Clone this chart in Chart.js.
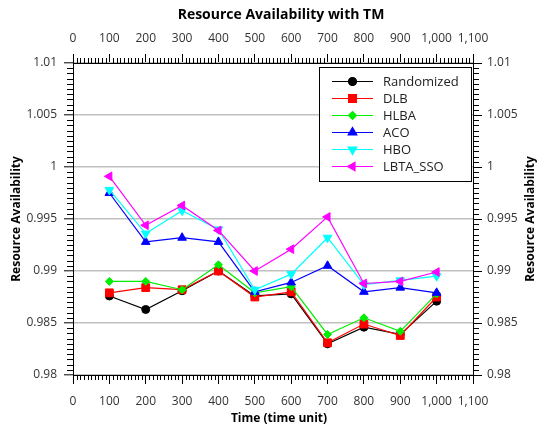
<!DOCTYPE html>
<html><head><meta charset="utf-8">
<script src="https://cdn.jsdelivr.net/npm/chart.js@4/dist/chart.umd.min.js"></script>
<style>html,body{margin:0;padding:0;background:#fff}canvas{display:block}</style>
</head><body>
<canvas id="c" width="538" height="430"></canvas>
<script>
// ---- data ----
const timeUnits  = [100, 200, 300, 400, 500, 600, 700, 800, 900, 1000];
const randomized = [0.9876, 0.9863, 0.9881, 0.9900, 0.9876, 0.9878, 0.9830, 0.9846, 0.9839, 0.9871];
const dlb        = [0.9879, 0.9884, 0.9882, 0.9900, 0.9875, 0.9880, 0.9831, 0.9849, 0.9838, 0.9875];
const hlba       = [0.9890, 0.9890, 0.9882, 0.9906, 0.9879, 0.9885, 0.9839, 0.9855, 0.9842, 0.9878];
const aco        = [0.9975, 0.9928, 0.9932, 0.9928, 0.9880, 0.9889, 0.9905, 0.9880, 0.9884, 0.9879];
const hbo        = [0.9978, 0.9936, 0.9958, 0.9940, 0.9882, 0.9897, 0.9932, 0.9887, 0.9891, 0.9895];
const lbtaSso    = [0.9991, 0.9944, 0.9963, 0.9939, 0.9900, 0.9921, 0.9952, 0.9888, 0.9890, 0.9899];
const seriesNames = ['Randomized', 'DLB', 'HLBA', 'ACO', 'HBO', 'LBTA_SSO'];
const xMin = 0, xMax = 1100, xStep = 100, xMinorStep = 10;
const yMin = 0.98, yMax = 1.01, yStep = 0.005, yMinorStep = 0.0005;
const chartTitle = 'Resource Availability with TM';
const xTitle = 'Time (time unit)';
const yTitle = 'Resource Availability';

// ---- styles ----
const FONT = "'Open Sans', 'Noto Sans', sans-serif";
const styles = [
  {color: '#000000', pointStyle: 'circle',   radius: 4,   rotation: 0},
  {color: '#ff0000', pointStyle: 'rect',     radius: 5.5, rotation: 0},
  {color: '#00ee00', pointStyle: 'rectRot',  radius: 4,   rotation: 0},
  {color: '#0000ff', pointStyle: 'triangle', radius: 5,   rotation: 0},
  {color: '#00ffff', pointStyle: 'triangle', radius: 5,   rotation: 180},
  {color: '#ff00ff', pointStyle: 'triangle', radius: 5,   rotation: 270}
];
const seriesValues = [randomized, dlb, hlba, aco, hbo, lbtaSso];

const datasets = seriesNames.map((name, i) => ({
  label: name,
  data: timeUnits.map((t, j) => ({x: t, y: seriesValues[i][j]})),
  borderColor: styles[i].color,
  backgroundColor: styles[i].color,
  borderWidth: 1.2,
  pointStyle: styles[i].pointStyle,
  pointRadius: styles[i].radius,
  pointRotation: styles[i].rotation,
  pointBorderWidth: 1,
  pointBackgroundColor: styles[i].color,
  pointBorderColor: styles[i].color,
  tension: 0,
  order: seriesNames.length - i
}));

const fmtX = v => Number(v).toLocaleString('en-US');
const fmtY = v => String(parseFloat(Number(v).toFixed(4)));

const PLOT = {left: 73, right: 473, top: 63, bottom: 375};

const extras = {
  id: 'extras',
  afterDraw(chart) {
    const ctx = chart.ctx;
    const a = chart.chartArea;
    const sx = chart.scales.x, sx2 = chart.scales.x2, sy = chart.scales.y;
    ctx.save();
    // minor ticks
    ctx.strokeStyle = '#000'; ctx.lineWidth = 1;
    ctx.beginPath();
    const nx = Math.round((xMax - xMin) / xMinorStep);
    const per = Math.round(xStep / xMinorStep);
    for (let i = 0; i <= nx; i++) {
      if (i % per === 0) continue;
      const v = xMin + i * xMinorStep;
      const p1 = Math.round(sx.getPixelForValue(v)) + 0.5;
      ctx.moveTo(p1, a.bottom); ctx.lineTo(p1, a.bottom + 5);
      const p2 = Math.round(sx2.getPixelForValue(v)) + 0.5;
      ctx.moveTo(p2, a.top); ctx.lineTo(p2, a.top - 5);
    }
    const ny = Math.round((yMax - yMin) / yMinorStep);
    const pery = Math.round(yStep / yMinorStep);
    for (let i = 0; i <= ny; i++) {
      if (i % pery === 0) continue;
      const v = yMin + i * yMinorStep;
      const p = Math.round(sy.getPixelForValue(v)) + 0.5;
      ctx.moveTo(a.left, p); ctx.lineTo(a.left - 6, p);
      ctx.moveTo(a.right, p); ctx.lineTo(a.right + 6, p);
    }
    ctx.stroke();

    // chart title & x title & right y title
    const cx = (a.left + a.right) / 2 + 8;
    ctx.fillStyle = '#000';
    ctx.textAlign = 'center'; ctx.textBaseline = 'middle';
    ctx.font = 'bold 14px ' + FONT;
    ctx.fillText(chartTitle, cx, 15);
    ctx.font = 'bold 12px ' + FONT;
    ctx.fillText(xTitle, cx - 2, 418.5);
    ctx.save();
    ctx.translate(531, (a.top + a.bottom) / 2);
    ctx.rotate(-Math.PI / 2);
    ctx.fillText(yTitle, 0, 0);
    ctx.restore();

    // legend
    const bw = 152, bh = 114;
    const bx = a.right - 2 - bw, by = a.top + 4;
    ctx.fillStyle = '#fff';
    ctx.fillRect(bx, by, bw, bh);
    ctx.strokeStyle = '#000'; ctx.lineWidth = 1;
    ctx.strokeRect(Math.round(bx) + 0.5, Math.round(by) + 0.5, bw, bh);
    ctx.font = '13px ' + FONT;
    ctx.textAlign = 'left';
    chart.data.datasets.forEach((ds, i) => {
      const ry = by + 14.5 + i * 17;
      ctx.strokeStyle = ds.borderColor; ctx.lineWidth = 1.2;
      ctx.beginPath(); ctx.moveTo(bx + 13, ry); ctx.lineTo(bx + 54, ry); ctx.stroke();
      ctx.fillStyle = ds.pointBackgroundColor;
      Chart.helpers.drawPoint(ctx, {
        pointStyle: ds.pointStyle, radius: ds.pointRadius,
        rotation: ds.pointRotation, borderWidth: 1
      }, bx + 33.5, ry);
      ctx.fillStyle = '#222';
      ctx.fillText(ds.label, bx + 64, ry + 0.5);
    });
    ctx.restore();
  }
};

const tickFont = {family: FONT, size: 12};
new Chart(document.getElementById('c'), {
  type: 'line',
  data: {datasets},
  options: {
    responsive: false,
    animation: false,
    layout: {padding: 0},
    plugins: {legend: {display: false}, title: {display: false}, tooltip: {enabled: false}},
    scales: {
      x: {
        type: 'linear', position: 'bottom', min: xMin, max: xMax,
        ticks: {stepSize: xStep, callback: fmtX, font: tickFont, color: '#333', padding: 10, maxRotation: 0, autoSkip: false},
        grid: {drawOnChartArea: false, tickLength: 9, tickColor: '#000', tickWidth: 1},
        border: {color: '#000', width: 1},
        afterFit: s => { s.height = 430 - PLOT.bottom; }
      },
      x2: {
        type: 'linear', position: 'top', min: xMin, max: xMax,
        ticks: {stepSize: xStep, callback: fmtX, font: tickFont, color: '#333', padding: 8, maxRotation: 0, autoSkip: false},
        grid: {drawOnChartArea: false, tickLength: 9, tickColor: '#000', tickWidth: 1},
        border: {color: '#000', width: 1},
        afterFit: s => { s.height = PLOT.top; }
      },
      y: {
        type: 'linear', position: 'left', min: yMin, max: yMax,
        ticks: {stepSize: yStep, callback: fmtY, font: tickFont, color: '#333', padding: 7},
        grid: {color: '#c0c0c0', lineWidth: 1.6, tickLength: 9, tickColor: '#000', tickWidth: 1},
        border: {color: '#000', width: 1},
        title: {display: true, text: yTitle, font: {family: FONT, size: 12, weight: 'bold'}, color: '#000', padding: {top: 9, bottom: 0}},
        afterFit: s => { s.width = PLOT.left; }
      },
      y2: {
        type: 'linear', position: 'right', min: yMin, max: yMax,
        ticks: {stepSize: yStep, callback: fmtY, font: tickFont, color: '#333', padding: 5},
        grid: {drawOnChartArea: false, tickLength: 9, tickColor: '#000', tickWidth: 1},
        border: {color: '#000', width: 1},
        afterFit: s => { s.width = 538 - PLOT.right; }
      }
    }
  },
  plugins: [extras]
});
</script>
</body></html>
